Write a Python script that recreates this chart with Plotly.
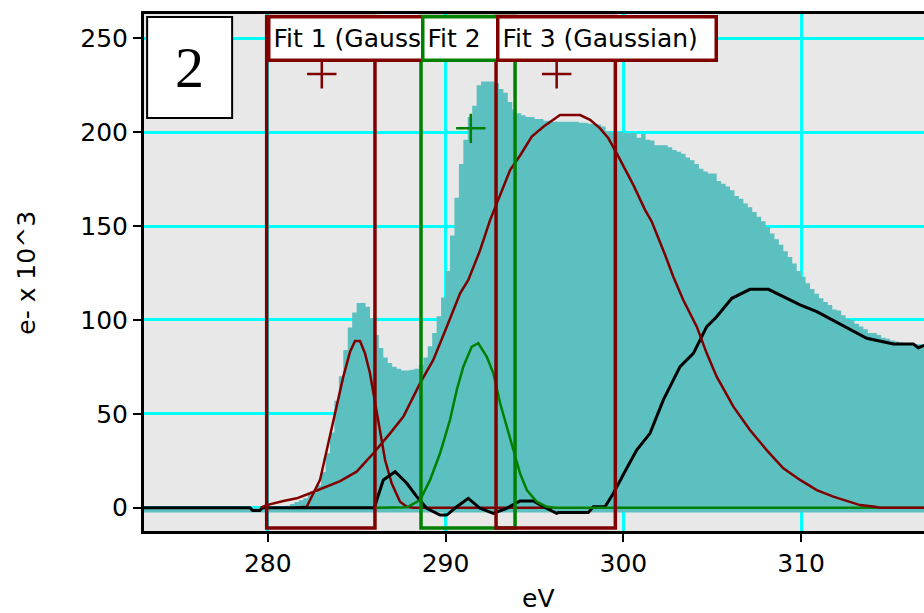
import numpy as np
import plotly.graph_objects as go

# ---------------- data ----------------
BIN_START = 273.0
BIN_WIDTH = 0.25
HIST_BASE = -2.6

hist_counts = [
    0, 0, 0, 0, 0, 0, 0, 0,                                   # 273-275
    0, 0, 0, 0, 0, 0, 0, 0,                                   # 275-277
    0, 0, 0, 0, 0, 0, 0, 0,                                   # 277-279
    0, 0, 0, 0, 0, 0, 0, 0,                                   # 279-281
    1, 2, 3, 4, 5, 7, 8, 12,                                  # 281-283
    19, 29, 40, 57, 70, 84, 96, 104,                          # 283-285
    109, 109, 107, 101, 92, 85, 80, 77,                       # 285-287
    75, 74, 73, 73, 73.5, 74, 76, 80,                         # 287-289
    86, 93, 102, 112, 126, 145, 165, 183,                     # 289-291
    196, 208, 214, 225, 227, 227, 227, 226,                   # 291-293
    223, 221, 216, 212, 210, 209, 208, 208,                   # 293-295
    207, 207, 206, 206, 205.5, 205.5, 205.5, 205.5,           # 295-297
    205.5, 205.5, 205, 205, 204.5, 204.5, 204, 203,           # 297-299
    200.5, 200, 200, 200, 199.5, 199.5, 199.5, 197,           # 299-301
    199, 196, 195.5, 193, 193, 193, 192, 190.5,               # 301-303
    189.5, 188.5, 186.5, 185, 183, 180.5, 179, 178,           # 303-305
    178, 174, 172.5, 171, 169, 166, 164.5, 162,               # 305-307
    160, 157.5, 155, 152.5, 149.5, 146, 143, 140,             # 307-309
    136.5, 133.5, 130, 126, 123, 119.5, 116.5, 114,           # 309-311
    111.5, 109.5, 108, 105.5, 105, 102.5, 100.5, 100,         # 311-313
    98, 96.5, 95, 93, 93, 92, 90.5, 90,                       # 313-315
    89, 88.5, 88, 87.5, 87.5, 87, 87, 87,                     # 315-317
]

fit1_ev = [281.5, 282.19, 282.94, 283.5, 283.88, 284.25, 284.63, 284.91, 285.19,
           285.47, 285.75, 286.04, 286.32, 286.6, 286.97, 287.44, 287.82, 288.2, 296.0]
fit1_val = [0, 0.5, 14.8, 37.8, 53.8, 69.8, 83.1, 88.8, 88.8,
            82.2, 71.6, 55.6, 39.6, 25.4, 13.0, 3.2, 0.5, 0, 0]

fit2_ev = [286.13, 287.82, 288.57, 289.13, 289.69, 290.25, 290.63, 291.0, 291.47,
           291.84, 292.32, 292.69, 293.07, 293.44, 293.81, 294.19, 294.57, 295.13,
           295.69, 296.2, 317.0]
fit2_val = [0, 0.2, 4.1, 14.8, 29.0, 46.7, 62.7, 75.1, 85.7,
            87.6, 80.4, 71.6, 55.6, 43.1, 30.7, 18.3, 9.4, 3.2,
            0.5, 0, 0]

fit3_ev = [279.6, 279.94, 280.88, 281.63, 282.38, 283.32, 284.07, 285.0, 285.94,
           286.88, 287.63, 288.57, 289.31, 290.07, 290.82, 291.28, 291.94, 292.5,
           293.07, 293.63, 294.2, 294.85, 295.5, 296.16, 296.44, 297.57, 298.13,
           298.69, 299.16, 299.63, 300.56, 301.22, 301.6, 302.35, 302.81, 303.37,
           304.13, 304.69, 305.25, 306.19, 307.12, 308.06, 309.0, 309.94, 310.88,
           311.81, 312.75, 313.31, 314.16, 314.4, 317.0]
fit3_val = [0, 1.4, 3.6, 5.0, 7.7, 11.2, 14.2, 19.2, 29.0,
            39.6, 48.5, 66.3, 78.7, 96.4, 114.2, 121.3, 137, 153,
            166.4, 179.8, 187.7, 197.6, 202.9, 207.4, 209.1, 209.1, 206.5,
            202.0, 196.7, 188.7, 171.9, 158.6, 152.3, 134.6, 123.0, 110.6,
            96.4, 82.2, 69.8, 53.8, 41.4, 30.7, 21.0, 14.8, 9.4,
            5.9, 3.2, 1.4, 0.5, 0, 0]

resid_ev = [273.0, 279.0, 279.15, 279.55, 279.7, 286.0, 286.13, 286.5, 287.16,
            287.82, 288.38, 288.94, 289.69, 290.07, 290.63, 291.28, 291.94, 292.69,
            293.44, 294.19, 294.94, 295.5, 296.25, 296.34, 298.03, 298.31, 298.97,
            299.44, 300.19, 300.75, 301.5, 302.25, 303.19, 303.94, 304.69, 305.25,
            306.1, 307.12, 308.16, 309.0, 309.94, 310.88, 311.81, 312.75, 313.69,
            315.19, 316.31, 316.59, 317.0]
resid_val = [0, 0, -1.5, -1.5, 0, 0, 4.1, 14.8, 19.2,
             13.0, 5.9, -0.3, -3.9, -3.9, 0.5, 5.0, -0.3, -3.0,
             -0.3, 3.6, 3.6, 0.5, -3.0, -2.6, -2.6, 0.5, 0.5,
             7.7, 21.0, 30.7, 39.6, 57.4, 75.1, 82.2, 96.4, 101.7,
             111.5, 116.3, 116.3, 112.4, 108.0, 104.4, 99.6, 94.6, 90.2,
             87.2, 87.2, 85.2, 86.7]

fit_names = ["Fit 1 (Gaussian)", "Fit 2", "Fit 3 (Gaussian)"]
fit_lo = [279.94, 288.62, 292.84]
fit_hi = [286.03, 293.91, 299.55]
peak_ev = [283.04, 291.42, 296.25]
peak_val = [231, 202, 231]

x_ticks = [280, 290, 300, 310]
y_ticks = [0, 50, 100, 150, 200, 250]
X_RANGE = [273.04, 316.91]
Y_RANGE = [-12.4, 262.9]
panel_label = "2"

# ---------------- styles ----------------
RED = "#800000"
GREEN = "#008000"
TEAL = "#5cbfc0"
CYAN = "#00ffff"
BG = "#e8e8e8"
FONT = "DejaVu Sans"
fit_colors = [RED, GREEN, RED]
label_widths = [209, 68, 209]

edges = BIN_START + BIN_WIDTH * np.arange(len(hist_counts) + 1)
hist_y = list(hist_counts) + [hist_counts[-1]]

fig = go.Figure()
fig.add_trace(go.Scatter(x=[edges[0], edges[-1]], y=[HIST_BASE, HIST_BASE],
                         mode="lines", line=dict(width=0, color=TEAL),
                         showlegend=False, hoverinfo="skip"))
fig.add_trace(go.Scatter(x=edges, y=hist_y, mode="lines", line_shape="hv",
                         line=dict(width=0, color=TEAL), fill="tonexty",
                         fillcolor=TEAL, showlegend=False))
fig.add_trace(go.Scatter(x=fit1_ev, y=fit1_val, mode="lines",
                         line=dict(color=RED, width=2.5), showlegend=False))
fig.add_trace(go.Scatter(x=resid_ev, y=resid_val, mode="lines",
                         line=dict(color="black", width=3), showlegend=False))
fig.add_trace(go.Scatter(x=fit2_ev, y=fit2_val, mode="lines",
                         line=dict(color=GREEN, width=2.5), showlegend=False))
fig.add_trace(go.Scatter(x=fit3_ev, y=fit3_val, mode="lines",
                         line=dict(color=RED, width=2.5), showlegend=False))
fig.add_trace(go.Scatter(x=peak_ev, y=peak_val, mode="markers",
                         marker=dict(symbol="cross-thin", size=21,
                                     line=dict(width=2.5, color=fit_colors)),
                         showlegend=False))

# fit range boxes
for lo, hi, col in zip(fit_lo, fit_hi, fit_colors):
    fig.add_shape(type="rect", xref="x", yref="paper", x0=lo, x1=hi,
                  y0=0.006, y1=0.995, line=dict(color=col, width=3.5),
                  layer="above")

# fit labels
for name, lo, col, w in zip(fit_names, fit_lo, fit_colors, label_widths):
    fig.add_annotation(x=lo, xref="x", y=0.998, yref="paper",
                       xanchor="left", yanchor="top", text=name,
                       showarrow=False, align="left", width=w, height=34,
                       font=dict(family=FONT, size=25, color="black"),
                       bgcolor="white", bordercolor=col, borderwidth=3.5,
                       borderpad=3)

# panel label box
fig.add_shape(type="rect", xref="paper", yref="paper", x0=0.004, x1=0.113,
              y0=0.799, y1=0.994, fillcolor="white",
              line=dict(color="black", width=2), layer="above")
fig.add_annotation(x=0.0585, y=0.8965, xref="paper", yref="paper",
                   xanchor="center", yanchor="middle",
                   text=panel_label, showarrow=False,
                   font=dict(family="Liberation Serif", size=58, color="black"))

# axis titles
fig.add_annotation(x=-0.151, y=0.5, xref="paper", yref="paper",
                   xanchor="center", yanchor="middle",
                   text="e- x 10^3", textangle=-90, showarrow=False,
                   font=dict(family=FONT, size=25, color="black"))
fig.add_annotation(x=0.505, y=-0.131, xref="paper", yref="paper",
                   xanchor="center", yanchor="middle",
                   text="eV", showarrow=False,
                   font=dict(family=FONT, size=25, color="black"))

axis_common = dict(showgrid=True, gridcolor=CYAN, gridwidth=3, zeroline=False,
                   showline=True, linecolor="black", linewidth=3,
                   ticks="outside", ticklen=8, tickwidth=2, tickcolor="black",
                   tickfont=dict(family=FONT, size=25, color="black"))
fig.update_xaxes(range=X_RANGE, tickvals=x_ticks, mirror=True, **axis_common)
fig.update_yaxes(range=Y_RANGE, tickvals=y_ticks, **axis_common)

fig.update_layout(width=924, height=613,
                  margin=dict(l=144, r=0, t=14, b=82),
                  plot_bgcolor=BG, paper_bgcolor="white",
                  font=dict(family=FONT), showlegend=False)

fig.write_html("out.html", config={"displayModeBar": False},
               post_script="document.body.style.margin='0';document.body.style.overflow='hidden';")
